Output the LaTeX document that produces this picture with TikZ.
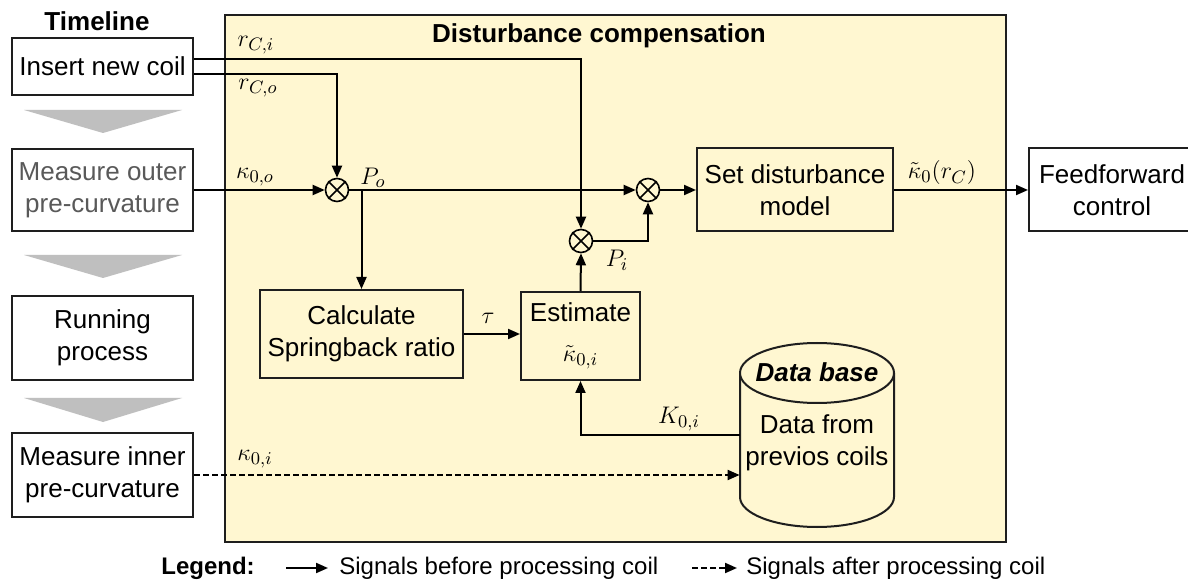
\documentclass[tikz,border=0pt]{standalone}
\usepackage{fontspec}
\setmainfont{Liberation Sans}
\usetikzlibrary{arrows.meta,calc}
\definecolor{dcyellow}{RGB}{255,247,209}
\definecolor{chev}{RGB}{191,191,191}
\definecolor{graytext}{RGB}{89,89,89}
\definecolor{edge}{RGB}{30,30,30}
\begin{document}
\begin{tikzpicture}[x=0.5pt,y=-0.5pt,
  txt/.style={font=\fontsize{13}{16}\selectfont},
  blk/.style={draw=edge, line width=1pt, align=center, inner sep=0pt, txt},
  lbl/.style={font=\fontsize{13}{15}\selectfont, inner sep=0pt},
  sig/.style={line width=1pt, -{Triangle[length=6pt,width=5pt]}},
  sumnode/.style={draw=black, circle, line width=0.8pt, minimum size=11.5pt, inner sep=0pt},
  chevron/.style={fill=chev, draw=none},
  leftbox/.style={blk, minimum width=90.5pt},
  ttl/.style={font=\bfseries\fontsize{13}{16}\selectfont, inner sep=0pt}
]
\clip (0,0) rectangle (1188,582);
\fill[white] (0,0) rectangle (1188,582);

% disturbance compensation area
\node[draw=edge, fill=dcyellow, line width=0.8pt, minimum width=390.5pt, minimum height=263.5pt, inner sep=0pt] (dc) at (615.5,278.5) {};
\node[ttl] (dctitle) at (599,36) {Disturbance compensation};

% timeline
\node[ttl] (tl) at (97,21) {Timeline};
\node[leftbox, minimum height=28.5pt] (coil) at (102.5,66.5) {Insert new coil};
\node[leftbox, minimum height=41pt, text=graytext] (outer) at (102.5,190) {Measure outer\\pre-curvature};
\node[leftbox, minimum height=42pt] (running) at (102.5,338) {Running\\process};
\node[leftbox, minimum height=42pt] (inner) at (102.5,475) {Measure inner\\pre-curvature};
\fill[chevron] (24,110) -- (182,110) -- (103,133) -- cycle;
\fill[chevron] (24,255) -- (182,255) -- (103,278) -- cycle;
\fill[chevron] (24,398) -- (182,398) -- (103,422) -- cycle;

% processing blocks
\node[sumnode] (po) at (337,190) {};
\node[sumnode] (pi) at (581,241) {};
\node[sumnode] (pm) at (648,190) {};
\foreach \s in {po,pi,pm}{
  \draw[line width=0.8pt] (\s.north east) -- (\s.south west) (\s.north west) -- (\s.south east);
}
\node[blk, minimum width=101.5pt, minimum height=44pt] (calc) at (361.5,334) {Calculate\\Springback ratio};
\node[blk, minimum width=59.5pt, minimum height=44pt, font=\fontsize{13}{20}\selectfont] (est) at (580.5,336) {Estimate\\$\tilde{\kappa}_{0,i}$};
\node[blk, minimum width=98pt, minimum height=41.5pt] (setd) at (795,190) {Set disturbance\\model};
\node[blk, minimum width=83pt, minimum height=41.5pt] (ff) at (1112,190) {Feedforward\\control};

% database cylinder
\node[minimum width=77pt, minimum height=92pt, inner sep=0pt] (db) at (817,435) {};
\draw[draw=edge, line width=1pt, fill=dcyellow] (740,373) -- (740,497) arc[start angle=180, end angle=360, x radius=38.5pt, y radius=15pt] -- (894,373);
\draw[draw=edge, line width=1pt, fill=dcyellow] (817,373) ellipse[x radius=38.5pt, y radius=15pt];
\node[font=\bfseries\itshape\fontsize{13}{16}\selectfont, inner sep=0pt] (dbt) at (817,372) {Data base};
\node[txt, align=center, inner sep=0pt] (dbd) at (817,443) {Data from\\previos coils};

% connectors
\coordinate (ci) at ($(coil.east)+(0,-7.5)$);
\coordinate (co) at ($(coil.east)+(0,7.5)$);
\draw[sig] (ci) -| (pi.north);
\draw[sig] (co) -| (po.north);
\draw[sig] (outer.east) -- (po.west);
\draw[sig] (po.east) -- (pm.west);
\draw[sig] (po.east -| calc.north) -- (calc.north);
\draw[sig] (calc.east) -- (est.west |- calc.east);
\draw[sig] (est.north) -- (pi.south);
\draw[sig] (pi.east) -| (pm.south);
\draw[sig] (pm.east) -- (setd.west);
\draw[sig] (setd.east) -- (ff.west);
\draw[sig] (db.west) -| (est.south);
\draw[sig, dash pattern=on 3pt off 1.5pt] (inner.east) -- (inner.east -| db.west);

% labels
\node[lbl] (lrci) at (256,45) {$r_{C,i}$};
\node[lbl] (lrco) at (258,88) {$r_{C,o}$};
\node[lbl] (lko) at (255,177) {$\kappa_{0,o}$};
\node[lbl] (lpo) at (373,178) {$P_o$};
\node[lbl] (ltau) at (488,318) {$\tau$};
\node[lbl] (lpi) at (617,260) {$P_i$};
\node[lbl] (lK) at (679,419) {$K_{0,i}$};
\node[lbl] (lki) at (255,459) {$\kappa_{0,i}$};
\node[lbl] (lout) at (942,173) {$\tilde{\kappa}_0(r_C)$};

% legend
\node[ttl, font=\bfseries\fontsize{12}{14}\selectfont] (leg) at (208,568) {Legend:};
\coordinate (la1) at (286,568);
\coordinate (la2) at (328,568);
\draw[sig] (la1) -- (la2);
\node[anchor=west, inner sep=0pt, font=\fontsize{12}{14}\selectfont] (leg1) at (339,568) {Signals before processing coil};
\coordinate (lb1) at (692,568);
\coordinate (lb2) at (737,568);
\draw[sig, dash pattern=on 3pt off 1.5pt] (lb1) -- (lb2);
\node[anchor=west, inner sep=0pt, font=\fontsize{12}{14}\selectfont] (leg2) at (746,568) {Signals after processing coil};
\end{tikzpicture}
\end{document}
